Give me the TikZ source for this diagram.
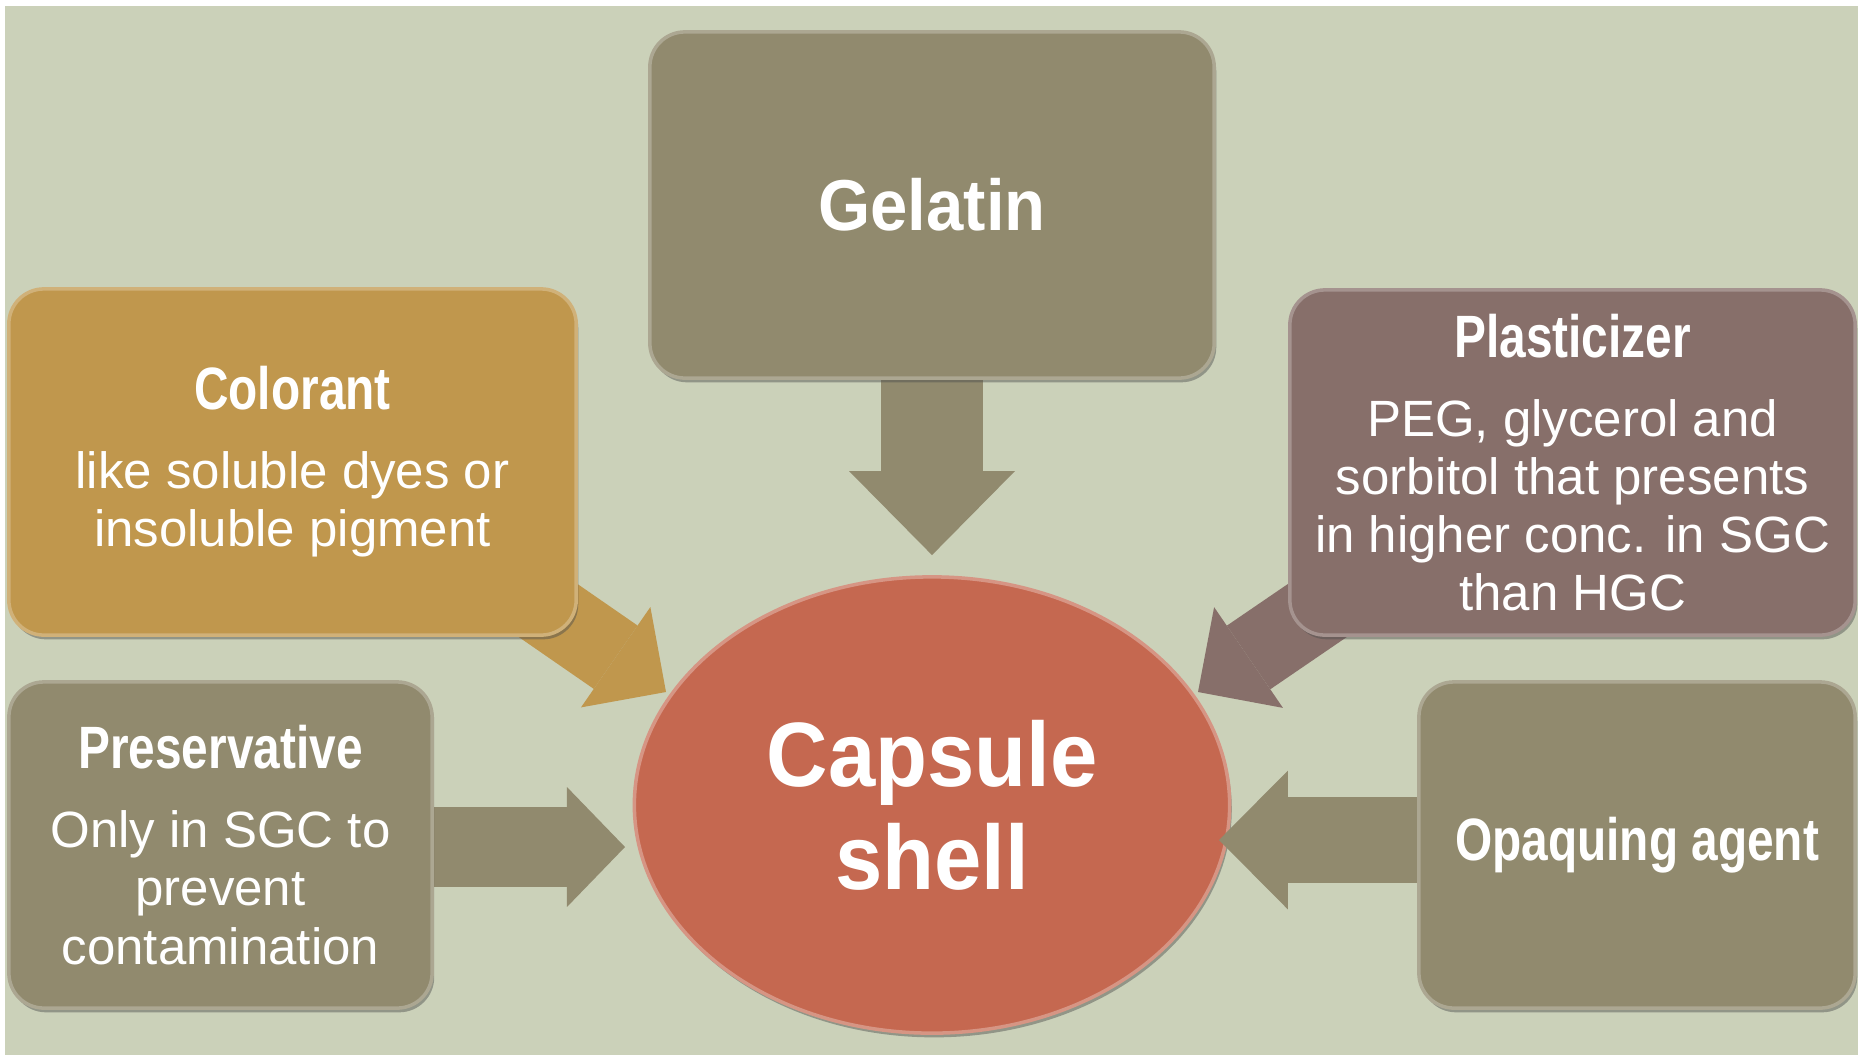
\documentclass[tikz,border=0pt]{standalone}
\usepackage{fontspec}
\setmainfont{Liberation Sans}
\newfontfamily\condfont{Liberation Sans}[FakeStretch=0.8]
\newfontfamily\headfont{Liberation Sans}[FakeStretch=0.93]
\usetikzlibrary{shapes.geometric,arrows.meta,shadows,calc}

\definecolor{bgsage}{HTML}{CBD1B9}
\definecolor{boxolive}{HTML}{918A6E}
\definecolor{boxgold}{HTML}{C0974D}
\definecolor{boxmauve}{HTML}{876F6A}
\definecolor{boxbrick}{HTML}{C56850}

\pgfdeclarelayer{back}
\pgfdeclarelayer{mid}
\pgfsetlayers{back,mid,main}

\newcommand{\boxtitle}{\condfont\bfseries\fontsize{17}{17}\selectfont}

\tikzset{
  partbox/.style={rectangle, rounded corners=0.35cm, fill=#1, draw=#1!75!white,
    line width=1pt, text=white, align=center, inner sep=0pt,
    drop shadow={shadow xshift=0.6pt, shadow yshift=-1.2pt, opacity=0.45, fill=black!70},
    font=\fontsize{14.5}{16.5}\selectfont},
  feedarrow/.style n args={4}{draw=#1, line width=#2,
    -{Triangle[width=#3, length=#4, line width=0pt]}}
}

\begin{document}
\begin{tikzpicture}[x=0.01cm,y=-0.01cm]
\useasboundingbox (0,0) rectangle (1858,1060);

% background and centre ellipse
\begin{pgfonlayer}{back}
\fill[bgsage] (5,6) rectangle (1858,1055);
\node[ellipse, fill=boxbrick, draw=boxbrick!70!white, line width=1pt,
  minimum width=5.95cm, minimum height=4.56cm, inner sep=0pt, text=white,
  align=center, font=\headfont\bfseries\fontsize{26}{29.2}\selectfont,
  drop shadow={shadow xshift=0.6pt, shadow yshift=-1.2pt, opacity=0.45, fill=black!70}]
  (shell) at (932,805) {Capsule\\shell};
\end{pgfonlayer}

% ingredient boxes
\node[partbox=boxolive, minimum width=5.64cm, minimum height=3.46cm,
  font=\headfont\bfseries\fontsize{20.5}{24}\selectfont] (gel) at (932,205) {Gelatin};

\node[partbox=boxgold, minimum width=5.67cm, minimum height=3.46cm] (col) at (292.5,462)
  {{\boxtitle Colorant}\\[6pt]like soluble dyes or\\insoluble pigment};

\node[partbox=boxmauve, minimum width=5.65cm, minimum height=3.45cm] (pla) at (1572.5,462.5)
  {{\boxtitle Plasticizer}\\[6pt]PEG, glycerol and\\sorbitol that presents\\in higher conc. in SGC\\than HGC};

\node[partbox=boxolive, minimum width=4.23cm, minimum height=3.26cm] (pre) at (220.5,845)
  {{\boxtitle Preservative}\\[6pt]Only in SGC to\\prevent\\contamination};

\node[partbox=boxolive, minimum width=4.36cm, minimum height=3.26cm] (opa) at (1637,845)
  {{\boxtitle Opaquing agent}};

% arrows into the shell
\coordinate (colTip) at ($(shell.center)+(-266,-113)$);
\coordinate (plaTip) at ($(shell.center)+(266,-113)$);
\coordinate (preTip) at ($(shell.center)+(-307,42)$);
\coordinate (opaTip) at ($(shell.center)+(287,35)$);
\begin{pgfonlayer}{mid}
\draw[feedarrow={boxolive}{29pt}{47.2pt}{23.9pt}, shorten >=5.7pt]
  (gel.center) -- (gel.center |- shell.north);
\draw[feedarrow={boxgold}{21.9pt}{34.7pt}{17.4pt}]
  ($(col.south east)+(-77,-59)$) -- (colTip);
\draw[feedarrow={boxmauve}{21.9pt}{34.7pt}{17.4pt}]
  ($(pla.south west)+(77,-59)$) -- (plaTip);
\draw[feedarrow={boxolive}{22.8pt}{34.1pt}{16.5pt}]
  (pre.center |- preTip) -- (preTip);
\draw[feedarrow={boxolive}{24.2pt}{39.5pt}{19.6pt}]
  (opa.center |- opaTip) -- (opaTip);
\end{pgfonlayer}
\end{tikzpicture}
\end{document}
